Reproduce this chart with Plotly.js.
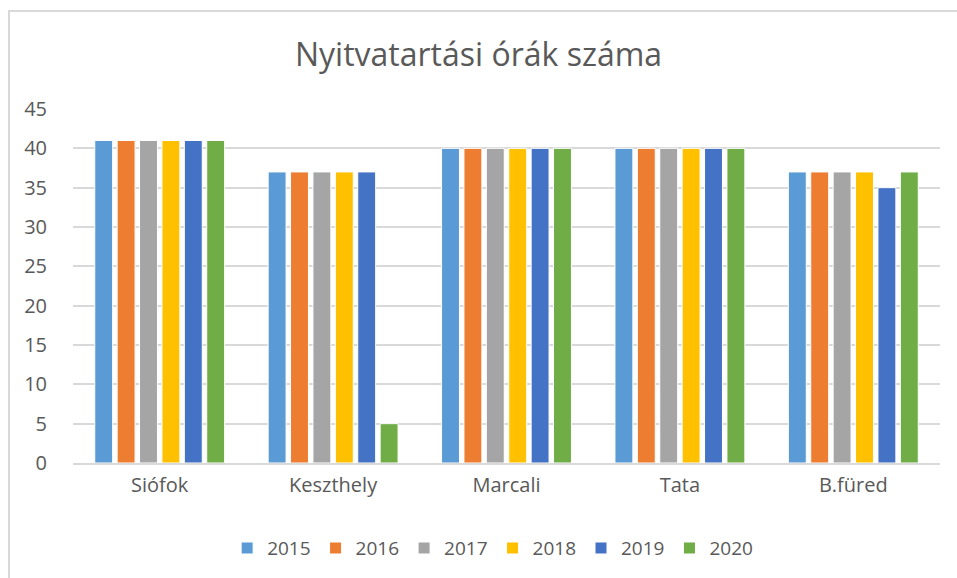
<!DOCTYPE html>
<html>
<head>
<meta charset="utf-8">
<script src="https://cdn.plot.ly/plotly-3.0.1.min.js"></script>
<style>
html,body{margin:0;padding:0;overflow:hidden;background:#fff;}
#chart{position:absolute;left:0;top:0;width:957px;height:578px;}
#frame{position:absolute;left:8px;top:10px;width:1000px;height:1000px;border:2px solid #d9d9d9;box-sizing:border-box;pointer-events:none;}
</style>
</head>
<body>
<div id="chart"></div>
<div id="frame"></div>
<script>
const categories = ["Siófok", "Keszthely", "Marcali", "Tata", "B.füred"];
const years = ["2015", "2016", "2017", "2018", "2019", "2020"];
const v2015 = [41, 37, 40, 40, 37];
const v2016 = [41, 37, 40, 40, 37];
const v2017 = [41, 37, 40, 40, 37];
const v2018 = [41, 37, 40, 40, 37];
const v2019 = [41, 37, 40, 40, 35];
const v2020 = [41, 5, 40, 40, 37];
const seriesValues = [v2015, v2016, v2017, v2018, v2019, v2020];
const colors = ["#5B9BD5", "#ED7D31", "#A5A5A5", "#FFC000", "#4472C4", "#70AD47"];
const yTicks = [0, 5, 10, 15, 20, 25, 30, 35, 40, 45];

const font = "Open Sans, Noto Sans, sans-serif";
const txt = "#595959";

const traces = years.map((y, i) => ({
  type: "bar",
  name: y,
  x: categories,
  y: seriesValues[i],
  marker: {color: colors[i], line: {color: "#ffffff", width: 1}},
  hoverinfo: "x+y+name"
}));

const layout = {
  width: 957, height: 578,
  margin: {l: 73, r: 17, t: 109, b: 114},
  paper_bgcolor: "#ffffff",
  plot_bgcolor: "#ffffff",
  font: {family: font, color: txt, size: 20},
  title: {text: "Nyitvatartási órák száma", font: {family: font, size: 32, color: txt}, x: 0.5, xanchor: "center", y: 0.905, yanchor: "middle"},
  barmode: "group",
  bargap: 0.225,
  bargroupgap: 0.2,
  xaxis: {type: "category", showgrid: false, zeroline: false, showline: true, linecolor: "#d9d9d9", linewidth: 2, ticks: "outside", ticklen: 3, tickcolor: "rgba(0,0,0,0)", tickfont: {size: 20, color: txt}},
  yaxis: {range: [0, 45], tickmode: "array", tickvals: yTicks, ticktext: yTicks.map(String), showgrid: true, gridcolor: "#d9d9d9", gridwidth: 2, zeroline: false, showline: false, ticks: "outside", ticklen: 21, tickcolor: "rgba(0,0,0,0)", tickfont: {size: 20, color: txt}},
  legend: {orientation: "h", x: 0.484, xanchor: "center", y: -0.237, yanchor: "middle", font: {size: 19, color: txt}, itemwidth: 30, traceorder: "normal"},
  showlegend: true
};

Plotly.newPlot("chart", traces, layout, {displayModeBar: false, staticPlot: true});
</script>
</body>
</html>
